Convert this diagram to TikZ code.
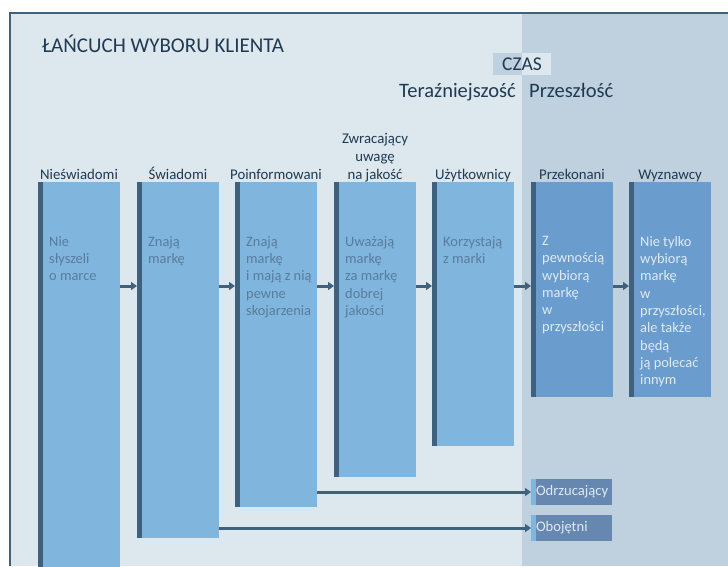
\documentclass[tikz,border=0pt]{standalone}
\usepackage{fontspec}
\setmainfont{Carlito}
\usetikzlibrary{arrows.meta}

\definecolor{bgnow}{RGB}{221,231,238}
\definecolor{bgpast}{RGB}{191,208,223}
\definecolor{barlight}{RGB}{128,181,222}
\definecolor{bardark}{RGB}{106,157,205}
\definecolor{strip}{RGB}{64,97,125}
\definecolor{ink}{RGB}{31,58,82}
\definecolor{inklight}{RGB}{88,124,155}
\definecolor{inkpale}{RGB}{222,234,244}
\definecolor{sidebox}{RGB}{102,135,176}

\begin{document}
\begin{tikzpicture}[x=1pt,y=-1pt,
    bar/.style={anchor=north west,minimum width=82pt,inner sep=0pt,outer sep=0pt,
        path picture={\fill[strip] (path picture bounding box.north west)
            rectangle ([xshift=5pt]path picture bounding box.south west);}},
    head/.style={font=\fontsize{14.8}{18}\selectfont,text=ink,inner sep=0pt},
    txt/.style={font=\fontsize{14.4}{17.3}\selectfont,align=left,anchor=north west,inner sep=0pt},
    flow/.style={draw=strip,line width=3pt,-{Triangle[length=6pt,width=8pt]}},
    side/.style={anchor=north west,fill=sidebox,text=inkpale,minimum height=26pt,
        text width=71pt,inner xsep=5pt,inner ysep=0pt,outer sep=0pt,align=left,
        font=\fontsize{14.6}{17}\selectfont,
        path picture={\fill[barlight] (path picture bounding box.north west)
            rectangle ([xshift=5pt]path picture bounding box.south west);}}]
    \useasboundingbox (0,0) rectangle (728,566);
    % background and frame
    \fill[bgnow] (10,13) rectangle (522,566);
    \fill[bgpast] (522,13) rectangle (728,566);
    \draw[strip,line width=1.5pt] (10,566) -- (10,13) -- (728,13);
    % title and time axis
    \node[anchor=base west,text=ink,font=\fontsize{21}{24}\selectfont,inner sep=0pt] (title) at (42,52) {ŁAŃCUCH WYBORU KLIENTA};
    \fill[bgpast] (493,53) rectangle (522,75);
    \fill[bgnow] (522,53) rectangle (551,75);
    \node[text=ink,font=\fontsize{19.5}{24}\selectfont,inner sep=0pt] (czas) at (522,64) {CZAS};
    \node[anchor=base east,text=ink,font=\fontsize{20.5}{24}\selectfont,inner sep=0pt] (now) at (516,97) {Teraźniejszość};
    \node[anchor=base west,text=ink,font=\fontsize{20.5}{24}\selectfont,inner sep=0pt] (past) at (529,97) {Przeszłość};
    % stages
    \node[bar,fill=barlight,minimum height=390pt] (b1) at (38,182) {};
    \node[bar,fill=barlight,minimum height=356pt] (b2) at (137,182) {};
    \node[bar,fill=barlight,minimum height=325pt] (b3) at (235,182) {};
    \node[bar,fill=barlight,minimum height=295pt] (b4) at (334,182) {};
    \node[bar,fill=barlight,minimum height=264pt] (b5) at (432,182) {};
    \node[bar,fill=bardark,minimum height=215pt] (b6) at (531,182) {};
    \node[bar,fill=bardark,minimum height=215pt] (b7) at (629,182) {};
    \node[head,anchor=base] at ([yshift=3pt]b1.north) {Nieświadomi};
    \node[head,anchor=base] at ([yshift=3pt]b2.north) {Świadomi};
    \node[head,anchor=base] at ([yshift=3pt]b3.north) {Poinformowani};
    \node[head,anchor=south,align=center] at ([yshift=0pt]b4.north) {Zwracający\\uwagę\\na jakość};
    \node[head,anchor=base] at ([yshift=3pt]b5.north) {Użytkownicy};
    \node[head,anchor=base] at ([yshift=3pt]b6.north) {Przekonani};
    \node[head,anchor=base] at ([yshift=3pt]b7.north) {Wyznawcy};
    \node[txt,text=inklight] at ([xshift=11pt,yshift=-54pt]b1.north west) {Nie\\słyszeli\\o marce};
    \node[txt,text=inklight] at ([xshift=11pt,yshift=-54pt]b2.north west) {Znają\\markę};
    \node[txt,text=inklight] at ([xshift=11pt,yshift=-54pt]b3.north west) {Znają\\markę\\i mają z nią\\pewne\\skojarzenia};
    \node[txt,text=inklight] at ([xshift=11pt,yshift=-54pt]b4.north west) {Uważają\\markę\\za markę\\dobrej\\jakości};
    \node[txt,text=inklight] at ([xshift=11pt,yshift=-54pt]b5.north west) {Korzystają\\z marki};
    \node[txt,text=inkpale] at ([xshift=11pt,yshift=-54pt]b6.north west) {Z\\pewnością\\wybiorą\\markę\\w\\przyszłości};
    \node[txt,text=inkpale] at ([xshift=11pt,yshift=-54pt]b7.north west) {Nie tylko\\wybiorą\\markę\\w\\przyszłości,\\ale także\\będą\\ją polecać\\innym};
    % flow between stages
    \coordinate (mid) at (0,286);
    \draw[flow] (b1.east |- mid) -- (b2.west |- mid);
    \draw[flow] (b2.east |- mid) -- (b3.west |- mid);
    \draw[flow] (b3.east |- mid) -- (b4.west |- mid);
    \draw[flow] (b4.east |- mid) -- (b5.west |- mid);
    \draw[flow] (b5.east |- mid) -- (b6.west |- mid);
    \draw[flow] (b6.east |- mid) -- (b7.west |- mid);
    % drop-outs
    \node[side] (odrz) at (531,479) {Odrzucający};
    \node[side] (oboj) at (531,515) {Obojętni};
    \draw[flow] (b3.east |- odrz.west) -- (odrz.west);
    \draw[flow] (b2.east |- oboj.west) -- (oboj.west);
\end{tikzpicture}
\end{document}
